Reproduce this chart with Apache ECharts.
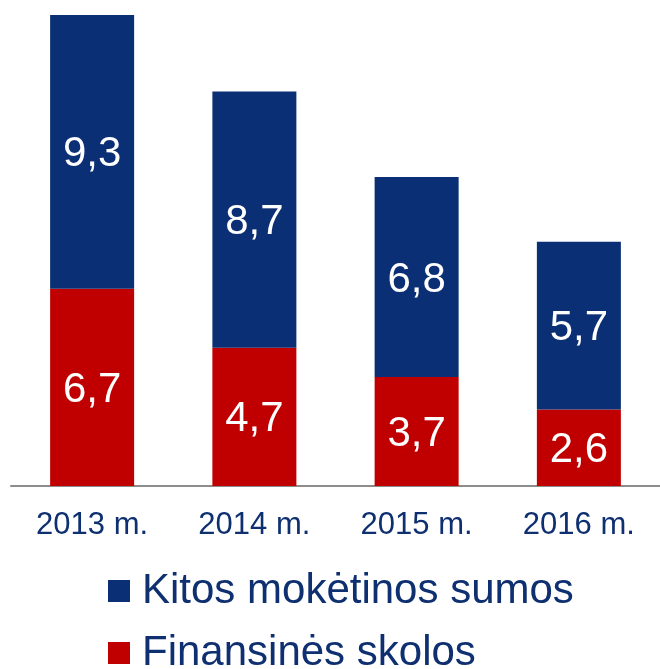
<!DOCTYPE html>
<html>
<head>
<meta charset="utf-8">
<script src="https://cdn.jsdelivr.net/npm/echarts@6/dist/echarts.min.js"></script>
<style>
  html, body { margin: 0; padding: 0; background: #fff; }
  #main { width: 660px; height: 669px; }
</style>
</head>
<body>
<div id="main"></div>
<script type="text/javascript">
    var years = ['2013 m.', '2014 m.', '2015 m.', '2016 m.'];
    var finansinesSkolos = [6.7, 4.7, 3.7, 2.6];
    var kitosSumos = [9.3, 8.7, 6.8, 5.7];

    var blue = '#0B2F74';
    var red = '#C00000';
    var textBlue = '#0E2F70';

    function fmt(p) {
        return String(p.value).replace('.', ',');
    }

    // one legend per row, so the long names never wrap into columns
    function legendRow(name, top) {
        return {
            orient: 'vertical',
            left: 108,
            top: top,
            padding: 0,
            itemWidth: 22,
            itemHeight: 22,
            icon: 'rect',
            data: [name],
            textStyle: {
                fontFamily: 'Liberation Sans, Arial, sans-serif',
                fontSize: 42,
                color: textBlue,
                lineHeight: 36,
                padding: [0, 0, 0, 7]
            }
        };
    }

    var myChart = echarts.init(document.getElementById('main'));
    var option = {
        animation: false,
        grid: {
            left: 11,
            width: 652,
            top: 15,
            bottom: 183
        },
        legend: [
            legendRow('Kitos mokėtinos sumos', 570),
            legendRow('Finansinės skolos', 632)
        ],
        xAxis: {
            type: 'category',
            data: years,
            axisLine: { lineStyle: { color: '#8c8c8c', width: 2 } },
            axisTick: { show: false },
            axisLabel: {
                fontFamily: 'Liberation Sans, Arial, sans-serif',
                fontSize: 31,
                color: textBlue,
                margin: 24
            }
        },
        yAxis: {
            type: 'value',
            min: 0,
            max: 16,
            show: false,
            splitLine: { show: false }
        },
        series: [
            {
                name: 'Finansinės skolos',
                type: 'bar',
                stack: 'total',
                barWidth: 84,
                itemStyle: { color: red },
                label: {
                    show: true,
                    position: 'inside',
                    offset: [0, 3],
                    formatter: fmt,
                    color: '#fff',
                    fontFamily: 'Liberation Sans, Arial, sans-serif',
                    fontSize: 42
                },
                data: finansinesSkolos
            },
            {
                name: 'Kitos mokėtinos sumos',
                type: 'bar',
                stack: 'total',
                barWidth: 84,
                itemStyle: { color: blue },
                label: {
                    show: true,
                    position: 'inside',
                    offset: [0, 3],
                    formatter: fmt,
                    color: '#fff',
                    fontFamily: 'Liberation Sans, Arial, sans-serif',
                    fontSize: 42
                },
                data: kitosSumos
            }
        ]
    };
    myChart.setOption(option);
</script>
</body>
</html>
